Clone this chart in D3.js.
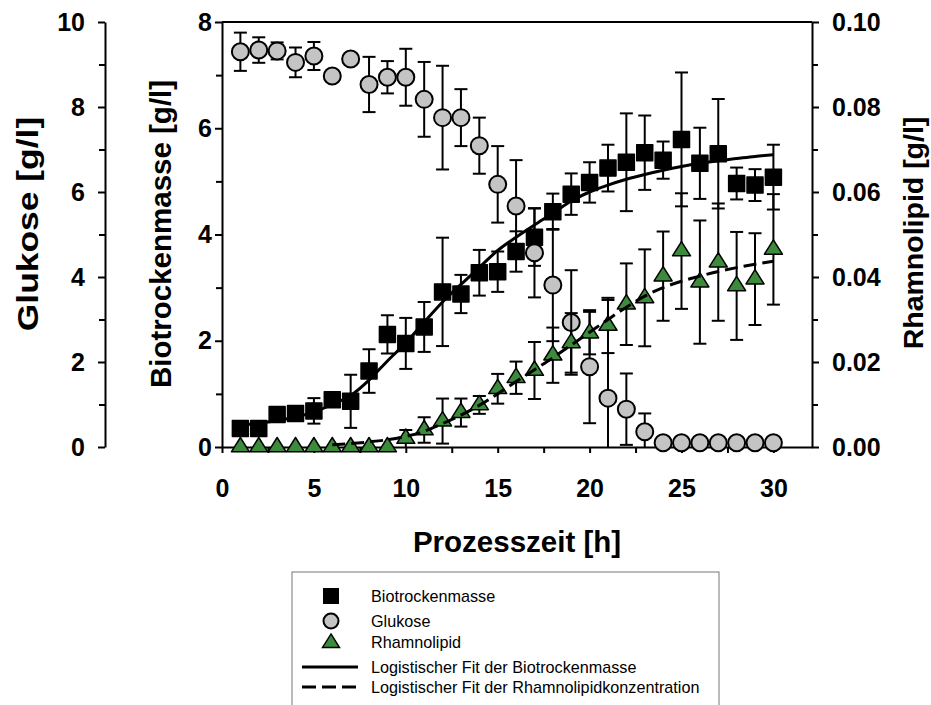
<!DOCTYPE html>
<html>
<head>
<meta charset="utf-8">
<script src="https://cdn.jsdelivr.net/npm/d3@7"></script>
<style>
  body { margin: 0; background: #fff; }
  svg { font-family: "Liberation Sans", Arial, sans-serif; }
  .axis path, .axis line { stroke: #000; stroke-width: 2; }
  .axis text { font-size: 25px; font-weight: bold; fill: #000; }
</style>
</head>
<body>
<div id="chart"></div>
<script>
const width = 931;
const height = 705;

// process time [h]
const hours = [1, 2, 3, 4, 5, 6, 7, 8, 9, 10, 11, 12, 13, 14, 15, 16, 17, 18, 19, 20, 21, 22, 23, 24, 25, 26, 27, 28, 29, 30];

// Biotrockenmasse [g/l]
const bio = [0.35, 0.35, 0.61, 0.63, 0.68, 0.89, 0.86, 1.43, 2.12, 1.95, 2.26, 2.92, 2.88, 3.28, 3.30, 3.68, 3.95, 4.43, 4.76, 4.98, 5.25, 5.36, 5.54, 5.40, 5.79, 5.34, 5.52, 4.96, 4.93, 5.08];
const bioErr = [0.05, 0.05, 0.05, 0.08, 0.24, 0.05, 0.50, 0.41, 0.36, 0.48, 0.47, 1.02, 0.36, 0.43, 0.38, 0.38, 0.54, 0.34, 0.39, 0.38, 0.44, 0.92, 0.70, 0.35, 1.26, 0.67, 1.03, 0.30, 0.30, 0.61];

// Glukose [g/l]
const glu = [9.30, 9.34, 9.32, 9.05, 9.20, 8.73, 9.13, 8.53, 8.70, 8.70, 8.18, 7.75, 7.75, 7.09, 6.18, 5.67, 4.57, 3.81, 2.93, 1.89, 1.15, 0.89, 0.36, 0.10, 0.10, 0.10, 0.10, 0.10, 0.10, 0.10];
const gluErr = [0.45, 0.30, 0.20, 0.35, 0.33, 0, 0, 0.65, 0.38, 0.67, 0.88, 1.22, 0.67, 0.66, 0.90, 1.08, 1.05, 1.32, 1.23, 1.33, 2.31, 0.84, 0.43, 0, 0, 0, 0, 0, 0, 0];

// Rhamnolipid [g/l]
const rham = [0, 0, 0, 0, 0, 0, 0, 0, 0, 0.0020, 0.0040, 0.0061, 0.0081, 0.0099, 0.0137, 0.0163, 0.0180, 0.0216, 0.0245, 0.0268, 0.0286, 0.0336, 0.0351, 0.0402, 0.0461, 0.0388, 0.0435, 0.0379, 0.0395, 0.0465];
const rhamErr = [0, 0, 0, 0, 0, 0, 0, 0, 0, 0.0020, 0.0030, 0.0053, 0.0033, 0.0021, 0.0035, 0.0038, 0.0067, 0.0065, 0.0070, 0.0050, 0.0065, 0.0096, 0.0114, 0.0105, 0.0136, 0.0145, 0.0138, 0.0127, 0.0108, 0.0130];

// logistic fits
const bioFitHours = hours;
const bioFit = [0.41, 0.45, 0.50, 0.56, 0.66, 0.80, 0.97, 1.26, 1.62, 1.96, 2.35, 2.73, 3.06, 3.38, 3.70, 3.95, 4.18, 4.40, 4.63, 4.80, 4.93, 5.04, 5.13, 5.21, 5.28, 5.34, 5.39, 5.43, 5.47, 5.50];
const rhamFitHours = [6, 7, 8, 9, 10, 11, 12, 13, 14, 15, 16, 17, 18, 19, 20, 21, 22, 23, 24, 25, 26, 27, 28, 29, 30];
const rhamFit = [0.0005, 0.0008, 0.0012, 0.0017, 0.0025, 0.0037, 0.0055, 0.0075, 0.0098, 0.0125, 0.0154, 0.0182, 0.0210, 0.0240, 0.0270, 0.0300, 0.0329, 0.0355, 0.0375, 0.0390, 0.0402, 0.0413, 0.0422, 0.0430, 0.0437];

// tick values
const xTicks = [0, 5, 10, 15, 20, 25, 30];
const xMinor = [2.5, 7.5, 12.5, 17.5, 22.5, 27.5];
const bioTicks = [0, 2, 4, 6, 8];
const bioMinor = [1, 3, 5, 7];
const gluTicks = [0, 2, 4, 6, 8, 10];
const gluMinor = [1, 3, 5, 7, 9];
const rhamTicks = [0, 0.02, 0.04, 0.06, 0.08, 0.10];
const rhamMinor = [0.01, 0.03, 0.05, 0.07, 0.09];

const legendItems = ["Biotrockenmasse", "Glukose", "Rhamnolipid",
  "Logistischer Fit der Biotrockenmasse", "Logistischer Fit der Rhamnolipidkonzentration"];

const plot = { left: 222, right: 812, top: 22, bottom: 447 };
const gluAxisX = 105;
const greenFill = "#3c8a3c";
const greyFill = "#c4c4c4";

const x = d3.scaleLinear().domain([0, 32.1]).range([plot.left, plot.right]);
const yBio = d3.scaleLinear().domain([0, 8]).range([plot.bottom, plot.top]).clamp(true);
const yGlu = d3.scaleLinear().domain([0, 10]).range([plot.bottom, plot.top]).clamp(true);
const yRham = d3.scaleLinear().domain([0, 0.1]).range([plot.bottom, plot.top]).clamp(true);

const svg = d3.select("#chart").append("svg")
  .attr("width", width).attr("height", height);

// top frame line
svg.append("line")
  .attr("x1", plot.left).attr("x2", plot.right)
  .attr("y1", plot.top).attr("y2", plot.top)
  .attr("stroke", "#000").attr("stroke-width", 2);

const addAxis = (axis, tx, ty) => {
  return svg.append("g").attr("class", "axis")
    .attr("transform", `translate(${tx},${ty})`)
    .call(axis);
};

// x axis
addAxis(d3.axisBottom(x).tickValues(xTicks).tickSize(6).tickSizeOuter(0).tickPadding(26), 0, plot.bottom);
addAxis(d3.axisBottom(x).tickValues(xMinor).tickSize(6).tickFormat(""), 0, plot.bottom)
  .select(".domain").remove();

// Biotrockenmasse axis
addAxis(d3.axisLeft(yBio).tickValues(bioTicks).tickSize(7).tickSizeOuter(0).tickPadding(3), plot.left, 0);
addAxis(d3.axisLeft(yBio).tickValues(bioMinor).tickSize(6).tickFormat(""), plot.left, 0)
  .select(".domain").remove();

// Glukose axis
addAxis(d3.axisLeft(yGlu).tickValues(gluTicks).tickSize(7).tickSizeOuter(0).tickPadding(13), gluAxisX, 0);
addAxis(d3.axisLeft(yGlu).tickValues(gluMinor).tickSize(6).tickFormat(""), gluAxisX, 0)
  .select(".domain").remove();

// Rhamnolipid axis
addAxis(d3.axisRight(yRham).tickValues(rhamTicks).tickSize(7).tickSizeOuter(0).tickPadding(13)
  .tickFormat(d3.format(".2f")), plot.right, 0);
addAxis(d3.axisRight(yRham).tickValues(rhamMinor).tickSize(6).tickFormat(""), plot.right, 0)
  .select(".domain").remove();

// axis titles
const title = (text, tx, ty, rotate, sx, size) => {
  svg.append("text")
    .attr("transform", `translate(${tx},${ty}) rotate(${rotate}) scale(${sx},1)`)
    .attr("text-anchor", "middle")
    .attr("dominant-baseline", "central")
    .attr("font-size", size)
    .attr("font-weight", "bold")
    .text(text);
};
title("Glukose [g/l]", 28, 224, -90, 1.2, 29.5);
title("Biotrockenmasse [g/l]", 160, 234, -90, 1, 29.5);
title("Rhamnolipid [g/l]", 913, 233, -90, 1, 28.5);
title("Prozesszeit [h]", 517, 541, 0, 1, 29.5);

// series
const makeRows = (vals, errs) => hours.map((t, i) => ({ t, v: vals[i], e: errs[i] }));

const drawErrors = (rows, y) => {
  const g = svg.append("g").attr("stroke", "#000").attr("stroke-width", 2);
  rows.filter((d) => d.e > 0).forEach((d) => {
    const cx = x(d.t);
    const y1 = y(d.v + d.e);
    const y2 = y(d.v - d.e);
    g.append("line").attr("x1", cx).attr("x2", cx).attr("y1", y1).attr("y2", y2);
    g.append("line").attr("x1", cx - 6.5).attr("x2", cx + 6.5).attr("y1", y1).attr("y2", y1);
    if (d.v - d.e > 0) {
      g.append("line").attr("x1", cx - 6.5).attr("x2", cx + 6.5).attr("y1", y2).attr("y2", y2);
    }
  });
};

const squarePath = "M-8,-8H8V8H-8Z";
const trianglePath = "M0,-9.5L9,4.8L-9,4.8Z";

const bioRows = makeRows(bio, bioErr);
const gluRows = makeRows(glu, gluErr);
const rhamRows = makeRows(rham, rhamErr);

drawErrors(bioRows, yBio);
svg.append("g").selectAll("path").data(bioRows).join("path")
  .attr("d", squarePath)
  .attr("transform", (d) => `translate(${x(d.t)},${yBio(d.v)})`)
  .attr("fill", "#000").attr("stroke", "#000").attr("stroke-width", 1.5)
  .attr("stroke-linejoin", "round");

drawErrors(gluRows, yGlu);
svg.append("g").selectAll("circle").data(gluRows).join("circle")
  .attr("cx", (d) => x(d.t)).attr("cy", (d) => yGlu(d.v)).attr("r", 8.5)
  .attr("fill", greyFill).attr("stroke", "#000").attr("stroke-width", 2);

drawErrors(rhamRows, yRham);
svg.append("g").selectAll("path").data(rhamRows).join("path")
  .attr("d", trianglePath)
  .attr("transform", (d) => `translate(${x(d.t)},${yRham(d.v)})`)
  .attr("fill", greenFill).attr("stroke", "#000").attr("stroke-width", 1.5)
  .attr("stroke-linejoin", "round");

// fit curves
svg.append("path")
  .datum(bioFitHours.map((t, i) => [t, bioFit[i]]))
  .attr("fill", "none").attr("stroke", "#000").attr("stroke-width", 3)
  .attr("d", d3.line().x((d) => x(d[0])).y((d) => yBio(d[1])).curve(d3.curveMonotoneX));

svg.append("path")
  .datum(rhamFitHours.map((t, i) => [t, rhamFit[i]]))
  .attr("fill", "none").attr("stroke", "#000").attr("stroke-width", 3)
  .attr("stroke-dasharray", "13,6")
  .attr("d", d3.line().x((d) => x(d[0])).y((d) => yRham(d[1])).curve(d3.curveMonotoneX));

// legend
const legend = svg.append("g").attr("transform", "translate(292,572)");
legend.append("rect")
  .attr("width", 427).attr("height", 145)
  .attr("fill", "#fff").attr("stroke", "#777").attr("stroke-width", 1);

const rowY = [24, 49, 70, 95, 115];
const symX = 39;
legend.append("path").attr("d", squarePath)
  .attr("transform", `translate(${symX},${rowY[0]})`).attr("fill", "#000");
legend.append("circle").attr("cx", symX).attr("cy", rowY[1]).attr("r", 7.5)
  .attr("fill", greyFill).attr("stroke", "#000").attr("stroke-width", 2);
legend.append("path").attr("d", trianglePath)
  .attr("transform", `translate(${symX},${rowY[2] + 1}) scale(0.95)`)
  .attr("fill", greenFill).attr("stroke", "#000").attr("stroke-width", 1.5);
legend.append("line").attr("x1", 10).attr("x2", 66).attr("y1", rowY[3]).attr("y2", rowY[3])
  .attr("stroke", "#000").attr("stroke-width", 3);
legend.append("line").attr("x1", 10).attr("x2", 66).attr("y1", rowY[4]).attr("y2", rowY[4])
  .attr("stroke", "#000").attr("stroke-width", 3).attr("stroke-dasharray", "14,6");

legend.selectAll("text.item").data(legendItems).join("text")
  .attr("class", "item")
  .attr("x", 79).attr("y", (d, i) => rowY[i] + 6)
  .attr("font-size", 16.2)
  .attr("fill", "#000")
  .text((d) => d);
</script>
</body>
</html>
